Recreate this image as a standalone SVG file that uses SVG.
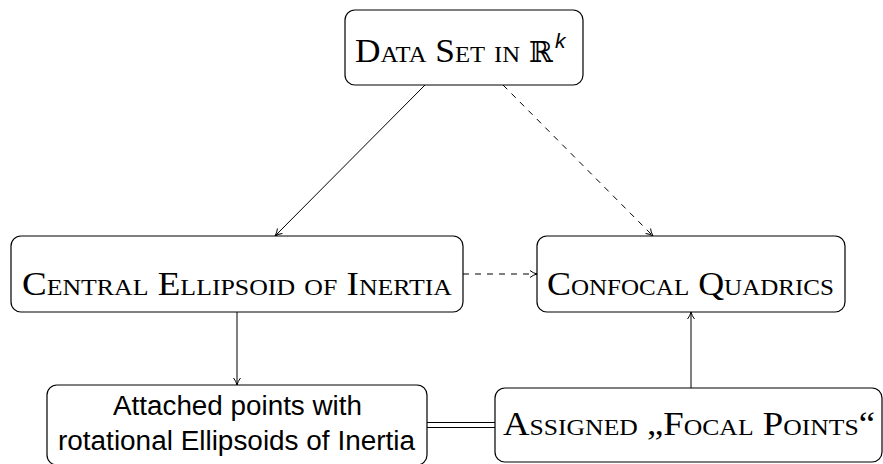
<svg xmlns="http://www.w3.org/2000/svg" width="883" height="464" viewBox="0 0 883 464">
<style>
.box{fill:#fff;stroke:#000;stroke-width:1.2}
.sc{font-family:"Liberation Serif","DejaVu Serif",serif;font-variant:small-caps;font-size:33px;fill:#000}
.sf{font-family:"Liberation Sans","DejaVu Sans",sans-serif;font-size:27px;fill:#000}
.ln{stroke:#000;stroke-width:1;fill:none}
.dash{stroke-dasharray:6 6}
</style>
<defs>
<marker id="ar" viewBox="0 0 10 10" refX="9" refY="5" markerWidth="10" markerHeight="10" markerUnits="userSpaceOnUse" orient="auto">
<path d="M2,1.5 Q5,4 9,5 Q5,6 2,8.5" fill="none" stroke="#000" stroke-width="1"/>
</marker>
</defs>
<g id="connectors">
<line class="ln" x1="425" y1="85" x2="275" y2="236" marker-end="url(#ar)"/>
<line class="ln dash" x1="503" y1="85" x2="653" y2="236" marker-end="url(#ar)"/>
<line class="ln dash" x1="463" y1="274" x2="537" y2="274" marker-end="url(#ar)"/>
<line class="ln" x1="237" y1="312" x2="237" y2="385" marker-end="url(#ar)"/>
<line class="ln" x1="691" y1="388" x2="691" y2="312" marker-end="url(#ar)"/>
<line class="ln" x1="427" y1="422.5" x2="495" y2="422.5"/>
<line class="ln" x1="427" y1="427.5" x2="495" y2="427.5"/>
</g>
<g id="data-set">
<rect class="box" x="345" y="10" width="238" height="75" rx="10"/>
<text class="sc" x="355" y="62" textLength="165" lengthAdjust="spacingAndGlyphs">Data Set in</text>
<text x="529" y="62" font-family="DejaVu Serif,serif" font-size="29" textLength="24" lengthAdjust="spacingAndGlyphs">ℝ</text>
<text x="555" y="48" font-family="Liberation Sans,sans-serif" font-style="italic" font-size="21">k</text>
</g>
<g id="central">
<rect class="box" x="11" y="236" width="452" height="76" rx="10"/>
<text class="sc" x="237" y="295" text-anchor="middle" textLength="430" lengthAdjust="spacingAndGlyphs">Central Ellipsoid of Inertia</text>
</g>
<g id="confocal">
<rect class="box" x="537" y="236" width="308" height="76" rx="10"/>
<text class="sc" x="690.5" y="295" text-anchor="middle" textLength="287" lengthAdjust="spacingAndGlyphs">Confocal Quadrics</text>
</g>
<g id="attached">
<rect class="box" x="47" y="385" width="380" height="80" rx="10"/>
<text class="sf" x="237.5" y="415" text-anchor="middle" textLength="249" lengthAdjust="spacingAndGlyphs">Attached points with</text>
<text class="sf" x="236.5" y="450" text-anchor="middle" textLength="357" lengthAdjust="spacingAndGlyphs">rotational Ellipsoids of Inertia</text>
</g>
<g id="assigned">
<rect class="box" x="495" y="388" width="387" height="74" rx="10"/>
<text class="sc" x="689" y="435" text-anchor="middle" textLength="372" lengthAdjust="spacingAndGlyphs">Assigned „Focal Points“</text>
</g>
</svg>
